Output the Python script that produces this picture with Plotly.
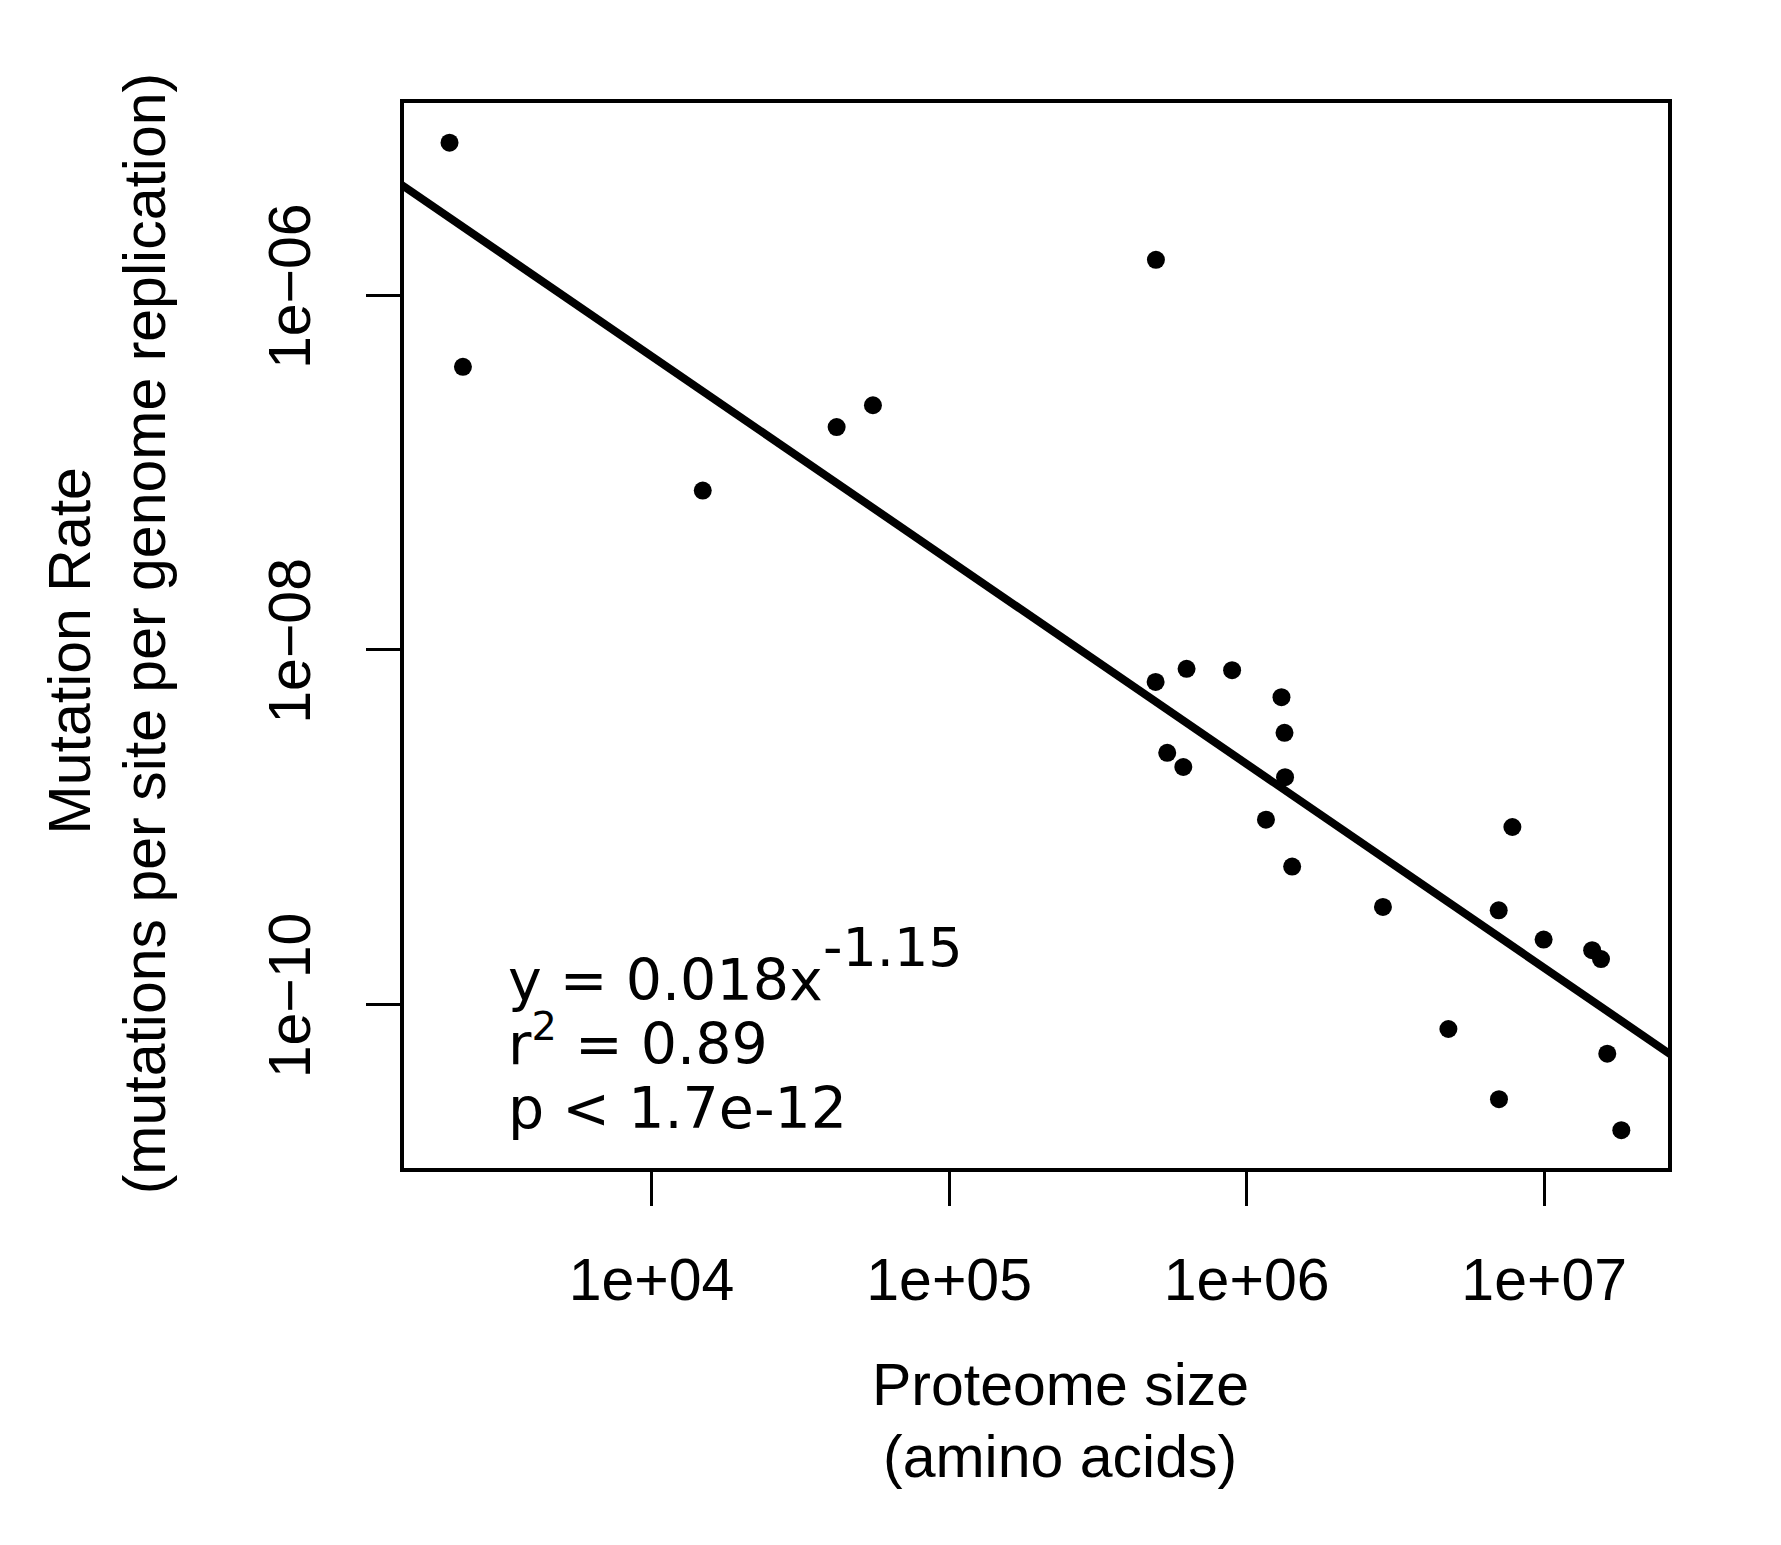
import numpy as np
import plotly.graph_objects as go

# Proteome size (amino acids) and mutation rate per site per replication
proteome_size = [
    2094, 2323, 14860, 41880, 55460, 495500,
    494300, 628100, 893300, 1309000, 1340000, 540800, 612400, 1346000,
    1161000, 1422000,
    7816000, 2871000, 7031000, 9954000, 14490000, 15520000, 4764000,
    16290000, 7047000, 18160000,
]
mutation_rate = [
    7.23e-6, 3.94e-7, 7.89e-8, 1.80e-7, 2.39e-7, 1.58e-6,
    6.58e-9, 7.80e-9, 7.66e-9, 5.40e-9, 3.40e-9, 2.62e-9, 2.18e-9, 1.91e-9,
    1.10e-9, 5.98e-10,
    1.00e-9, 3.54e-10, 3.39e-10, 2.32e-10, 2.02e-10, 1.80e-10, 7.26e-11,
    5.27e-11, 2.92e-11, 1.95e-11,
]

# power-law fit y = a * x^b
fit_a = 0.018
fit_b = -1.15

x_tickvals = [1e4, 1e5, 1e6, 1e7]
x_ticktext = ["1e+04", "1e+05", "1e+06", "1e+07"]
y_tickvals = [1e-10, 1e-8, 1e-6]
y_ticktext = ["1e\u221210", "1e\u221208", "1e\u221206"]

W, H = 1781, 1545
BODY = 8  # default page margin around the plot div
PL, PR, PT, PB = 403.5, 1668.4, 103.4, 1168.3


def fx(px):
    return (px - PL) / (PR - PL)


def fy(py):
    return 1 - (py - PT) / (PB - PT)


fig = go.Figure()

x_fit = np.logspace(3.0, 7.6, 60)
fig.add_trace(go.Scatter(
    x=x_fit, y=fit_a * x_fit ** fit_b,
    mode="lines", line=dict(color="black", width=8),
    hoverinfo="skip", showlegend=False,
))
fig.add_trace(go.Scatter(
    x=proteome_size, y=mutation_rate,
    mode="markers", marker=dict(color="black", size=18),
    showlegend=False,
))

axis_font = dict(family="Liberation Sans, Arial, sans-serif", size=59, color="black")
stat_font = dict(family="DejaVu Sans, sans-serif", size=57, color="black")

annotations = [
    dict(text="Proteome size", x=fx(1060), y=fy(1385), font=axis_font),
    dict(text="(amino acids)", x=fx(1060), y=fy(1457), font=axis_font),
    dict(text="Mutation Rate", x=fx(69), y=fy(651), textangle=-90, font=axis_font),
    dict(text="(mutations per site per genome replication)", x=fx(144), y=fy(634),
         textangle=-90, font=axis_font),
    dict(text="y = 0.018x", x=fx(506), y=fy(980), xanchor="left", font=stat_font),
    dict(text="-1.15", x=fx(821), y=fy(948), xanchor="left",
         font=dict(stat_font, size=54)),
    dict(text="r<sup>2</sup> = 0.89", x=fx(506), y=fy(1040), xanchor="left", font=stat_font),
    dict(text="p < 1.7e-12", x=fx(506), y=fy(1108), xanchor="left", font=stat_font),
]
for a in annotations:
    a.setdefault("xanchor", "center")
    a.setdefault("yanchor", "middle")
    a.update(xref="paper", yref="paper", showarrow=False)

fig.update_layout(
    width=W - 2 * BODY, height=H - 2 * BODY,
    margin=dict(l=PL - BODY, r=W - PR - BODY, t=PT - BODY, b=H - PB - BODY, pad=0),
    plot_bgcolor="white", paper_bgcolor="white",
    annotations=annotations,
)
fig.update_xaxes(
    type="log", range=[3.168, 7.416],
    tickvals=x_tickvals, ticktext=x_ticktext,
    ticks="outside", ticklen=34, tickwidth=2.5, tickcolor="black",
    ticklabelstandoff=23,
    showline=True, linecolor="black", linewidth=4, mirror=True,
    showgrid=False, zeroline=False, tickfont=axis_font,
)
fig.update_yaxes(
    type="log", range=[-10.923, -4.917],
    tickvals=y_tickvals, ticktext=y_ticktext, tickangle=-90,
    ticks="outside", ticklen=34, tickwidth=2.5, tickcolor="black",
    ticklabelstandoff=32,
    showline=True, linecolor="black", linewidth=4, mirror=True,
    showgrid=False, zeroline=False, tickfont=axis_font,
)

fig.write_html("out.html")
